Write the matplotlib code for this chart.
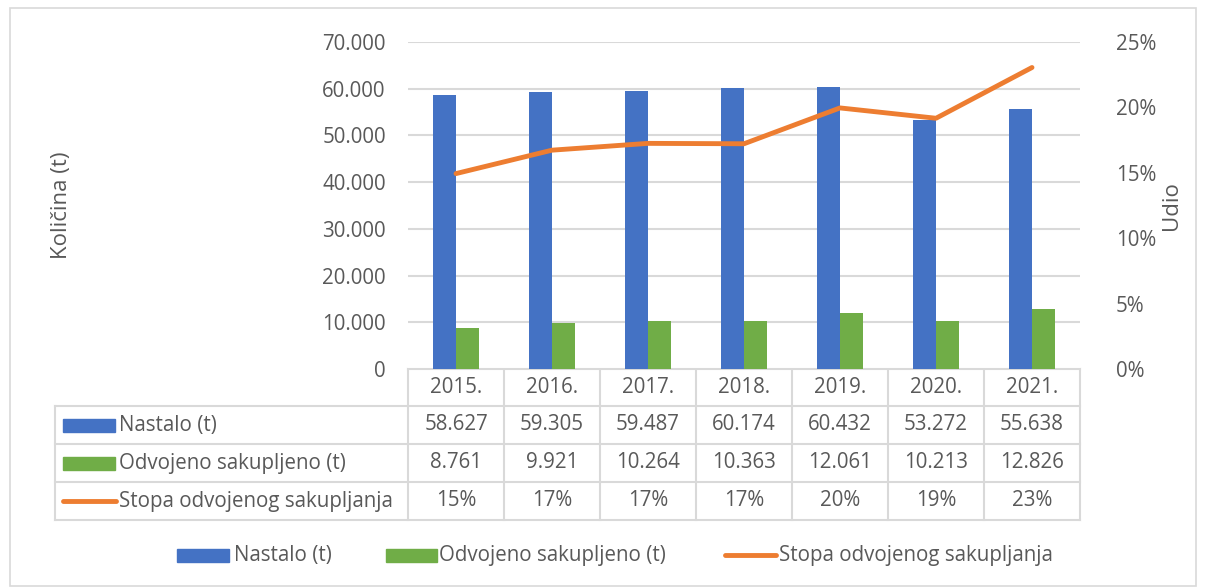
import matplotlib
matplotlib.use("Agg")
import matplotlib.pyplot as plt
import matplotlib.transforms as mtransforms
from matplotlib.patches import Rectangle
from matplotlib.lines import Line2D
import numpy as np

# podaci
godine = ['2015.', '2016.', '2017.', '2018.', '2019.', '2020.', '2021.']
nastalo = [58627, 59305, 59487, 60174, 60432, 53272, 55638]
odvojeno = [8761, 9921, 10264, 10363, 12061, 10213, 12826]
stopa = [0.1494, 0.1673, 0.1725, 0.1722, 0.1996, 0.1917, 0.2305]
stopa_txt = ['15%', '17%', '17%', '17%', '20%', '19%', '23%']
serije = ['Nastalo (t)', 'Odvojeno sakupljeno (t)', 'Stopa odvojenog sakupljanja']

PLAVA = '#4472C4'
ZELENA = '#70AD47'
NARANCASTA = '#ED7D31'
TEKST = '#595959'
LINIJA = '#D9D9D9'

plt.rcParams['font.family'] = ['Open Sans', 'DejaVu Sans']
FS = 14.8

W, H = 1206, 587
fig = plt.figure(figsize=(W / 100, H / 100), dpi=100)

# okvir cijele slike i overlay u pikselima
ov = fig.add_axes([0, 0, 1, 1], zorder=-1)
ov.set_xlim(0, W)
ov.set_ylim(H, 0)
ov.axis('off')
ov.add_patch(Rectangle((10, 8), 1186, 578, fill=False, ec=LINIJA, lw=1.2))

x0, x1, y_top, y_bot = 408, 1080, 42, 369
ax = fig.add_axes([x0 / W, 1 - y_bot / H, (x1 - x0) / W, (y_bot - y_top) / H])
x = np.arange(len(godine))
w = 0.24
ax.bar(x - w / 2, nastalo, w, color=PLAVA, zorder=3)
ax.bar(x + w / 2, odvojeno, w, color=ZELENA, zorder=3)
ax.set_xlim(-0.5, len(godine) - 0.5)
ax.set_ylim(0, 70000)
ax.set_yticks(range(0, 70001, 10000))
ax.set_yticklabels([f'{v:,}'.replace(',', '.') for v in range(0, 70001, 10000)])
ax.grid(axis='y', color=LINIJA, lw=1.5, zorder=0)
ax.set_xticks([])
for s in ax.spines.values():
    s.set_visible(False)
ax.tick_params(axis='y', length=0, pad=16, labelsize=FS, labelcolor=TEKST)
ax.set_ylabel('Količina (t)', fontsize=16, color=TEKST, labelpad=0)
ax.yaxis.set_label_coords(-(x0 - 72) / (x1 - x0), 0.5)

ax2 = ax.twinx()
ax2.plot(x, stopa, color=NARANCASTA, lw=3.5, solid_capstyle='round', zorder=4)
ax2.set_ylim(0, 0.25)
ax2.set_yticks(np.arange(0, 0.2501, 0.05))
ax2.set_yticklabels([f'{int(round(v * 100))}%' for v in np.arange(0, 0.2501, 0.05)])
for s in ax2.spines.values():
    s.set_visible(False)
ax2.tick_params(axis='y', length=0, pad=26, labelsize=FS, labelcolor=TEKST)
ax2.set_ylabel('Udio', fontsize=16, color=TEKST, rotation=90)
ax2.yaxis.set_label_coords(1 + (1161 - x1) / (x1 - x0), 0.5)

# tablica podataka
tr = mtransforms.blended_transform_factory(ax.transData, ov.transData)
redovi = [369, 406, 444, 482, 520]
lijevo = 55
for i in range(len(godine) + 1):
    ov.add_line(Line2D([i - 0.5, i - 0.5], [redovi[0], redovi[-1]], transform=tr,
                       color=LINIJA, lw=1.5))
ov.add_line(Line2D([x0, x1], [redovi[0], redovi[0]], color=LINIJA, lw=1.5))
for r in redovi[1:]:
    ov.add_line(Line2D([lijevo, x1], [r, r], color=LINIJA, lw=1.5))
ov.add_line(Line2D([lijevo, lijevo], [redovi[1], redovi[-1]], color=LINIJA, lw=1.5))

sredine = [(redovi[k] + redovi[k + 1]) / 2 for k in range(4)]
fmt = lambda v: f'{v:,}'.replace(',', '.')
for i in range(len(godine)):
    ov.text(i, sredine[0], godine[i], transform=tr, ha='center', va='center',
            fontsize=FS, color=TEKST)
    ov.text(i, sredine[1], fmt(nastalo[i]), transform=tr, ha='center', va='center',
            fontsize=FS, color=TEKST)
    ov.text(i, sredine[2], fmt(odvojeno[i]), transform=tr, ha='center', va='center',
            fontsize=FS, color=TEKST)
    ov.text(i, sredine[3], stopa_txt[i], transform=tr, ha='center', va='center',
            fontsize=FS, color=TEKST)

# kljucevi u tablici
ov.add_patch(Rectangle((63, sredine[1] - 6.5), 52, 13, color=PLAVA))
ov.add_patch(Rectangle((63, sredine[2] - 6.5), 52, 13, color=ZELENA))
ov.add_line(Line2D([63, 116], [sredine[3], sredine[3]], color=NARANCASTA, lw=3.5,
                   solid_capstyle='round'))
for k in range(3):
    ov.text(119, sredine[k + 1], serije[k], ha='left', va='center', fontsize=FS, color=TEKST)

# legenda dolje
ly = 555
ov.add_patch(Rectangle((177, ly - 6.5), 52, 13, color=PLAVA))
ov.text(234, ly, serije[0], ha='left', va='center', fontsize=FS, color=TEKST)
ov.add_patch(Rectangle((386, ly - 6.5), 51, 13, color=ZELENA))
ov.text(439, ly, serije[1], ha='left', va='center', fontsize=FS, color=TEKST)
ov.add_line(Line2D([725, 776], [ly, ly], color=NARANCASTA, lw=3.5, solid_capstyle='round'))
ov.text(779, ly, serije[2], ha='left', va='center', fontsize=FS, color=TEKST)

fig.savefig('out.png', dpi=100)
